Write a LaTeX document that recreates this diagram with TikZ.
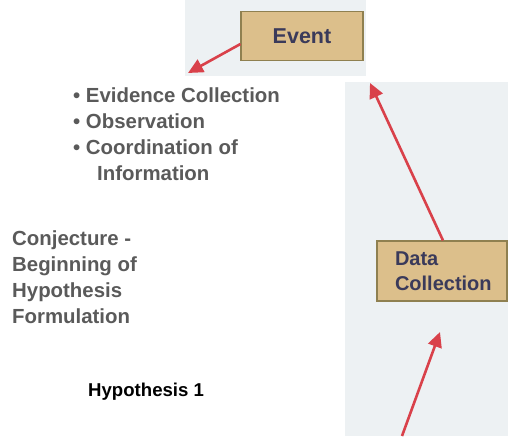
\documentclass[tikz,border=0pt]{standalone}
\usepackage{fontspec}
\setmainfont{Liberation Sans}
\usetikzlibrary{arrows.meta}
\definecolor{panel}{HTML}{EDF1F3}
\definecolor{boxfill}{HTML}{DCBF8B}
\definecolor{boxline}{HTML}{8F8050}
\definecolor{arrowred}{HTML}{D9414A}
\definecolor{boxtext}{HTML}{3A3A5A}
\definecolor{greytext}{HTML}{5A5A5A}
\tikzset{
  x=1pt,y=-1pt,
  box/.style={draw=boxline,line width=1.1pt,fill=boxfill,font=\bfseries\fontsize{20}{25}\selectfont,text=boxtext,inner sep=0pt},
  redarrow/.style={draw=arrowred,line width=2.6pt,-{Triangle[length=15pt,width=14pt]}},
  greytxt/.style={font=\bfseries\fontsize{20.4}{25.7}\selectfont,text=greytext,align=left,inner sep=0pt,anchor=north west}
}
\begin{document}
\begin{tikzpicture}
\useasboundingbox (0,0) rectangle (508,436);
\fill[panel] (185,0) rectangle (366,76);
\fill[panel] (345,82) rectangle (508,436);
\node[box,minimum width=122pt,minimum height=49pt,font=\bfseries\fontsize{21.5}{25}\selectfont] (event) at (302,36) {Event};
\node[box,minimum width=130pt,minimum height=60pt,align=left,text width=94pt] (data) at (442,271) {Data\\Collection};
\coordinate (t1) at (188,73);
\coordinate (t2) at (370,83);
\coordinate (s3) at (402,436);
\coordinate (t3) at (440,332);
\draw[redarrow] (event.west |- 0,44) -- (t1);
\draw[redarrow] (data.north -| 443,0) -- (t2);
\draw[redarrow] (s3) -- (t3);
\node[greytxt] (list) at (73,88) {• Evidence Collection\\• Observation\\• Coordination of\\\hspace{24pt}Information};
\node[greytxt] (conj) at (12,231) {Conjecture -\\Beginning of\\Hypothesis\\Formulation};
\node[font=\bfseries\fontsize{18.6}{22}\selectfont,inner sep=0pt,anchor=west] (hyp) at (88,392) {Hypothesis 1};
\end{tikzpicture}
\end{document}
